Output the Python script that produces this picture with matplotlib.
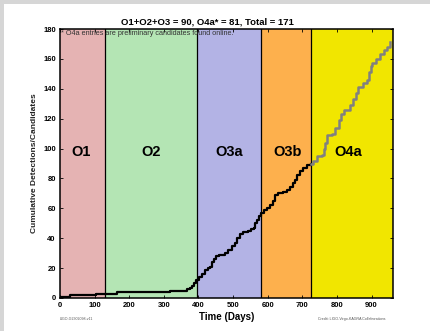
import matplotlib.pyplot as plt
from matplotlib.patches import Rectangle

plt.rcParams['font.family'] = ['Liberation Sans', 'DejaVu Sans']

# observing runs: name, start day, end day, colour
run_names = ['O1', 'O2', 'O3a', 'O3b', 'O4a']
run_edges = [0, 130, 396, 580, 725, 962]
run_colors = ['#e5b3b3', '#b4e5b4', '#b3b3e5', '#fdb04d', '#f1e600']
label_x = [60, 262, 488, 658, 832]

# cumulative detections (O1-O3)
det_days = [0, 29, 104, 164, 318, 366, 376, 382, 388, 394, 402, 410, 419, 428,
            434, 440, 446, 452, 458, 477, 486, 496, 506, 512, 520, 530, 544,
            552, 559, 564, 568, 574, 580, 588, 598, 607, 614, 621, 630, 645,
            655, 665, 672, 679, 686, 694, 702, 713, 725]
det_count = [1, 2, 3, 4, 5, 6, 7, 8, 10, 12, 14, 16, 19, 20,
             21, 24, 26, 28, 29, 30, 32, 35, 37, 40, 43, 44, 45,
             46, 47, 50, 52, 55, 57, 59, 60, 62, 65, 69, 70, 71,
             72, 74, 77, 79, 82, 85, 87, 89, 90]

# O4a preliminary candidates
cand_days = [725, 732, 742, 756, 762, 766, 771, 785, 795, 805, 812, 819, 838,
             846, 854, 862, 874, 886, 892, 897, 901, 912, 925, 935, 945, 954]
cand_count = [90, 92, 95, 96, 100, 104, 109, 110, 114, 119, 123, 126, 129,
              133, 137, 141, 144, 146, 151, 155, 157, 160, 163, 166, 168, 171]

fig = plt.figure(figsize=(4.30, 3.31), dpi=100)
fig.patch.set_facecolor('white')
# grey slide border on the top and left edges
fig.patches.append(Rectangle((0, 1 - 4 / 331), 1, 4 / 331, transform=fig.transFigure,
                             facecolor='#d6d6d6', edgecolor='none', zorder=-1))
fig.patches.append(Rectangle((0, 0), 4 / 430, 1, transform=fig.transFigure,
                             facecolor='#d6d6d6', edgecolor='none', zorder=-1))

ax = fig.add_axes([60 / 430, 1 - 298 / 331, 333 / 430, 269 / 331])

for i, name in enumerate(run_names):
    ax.axvspan(run_edges[i], run_edges[i + 1], color=run_colors[i], lw=0, zorder=0)
    ax.text(label_x[i], 98, name, fontsize=10.5, fontweight='bold',
            ha='center', va='center', zorder=3)
for e in run_edges[1:-1]:
    ax.axvline(e, color='black', lw=0.9, zorder=1)

ax.step(det_days, det_count, where='post', color='black', lw=1.6, zorder=4)
ax.step(cand_days, cand_count, where='post', color='#808080', lw=1.8, zorder=4)

ax.set_xlim(0, 962)
ax.set_ylim(0, 180)
ax.set_xticks(range(0, 1000, 100))
ax.set_yticks(range(0, 200, 20))
ax.tick_params(direction='in', length=2, width=0.6, labelsize=5.5, pad=3,
               top=True, right=True)
for lab in ax.get_xticklabels() + ax.get_yticklabels():
    lab.set_fontweight('bold')
for s in ax.spines.values():
    s.set_linewidth(1.1)

ax.set_xlabel('Time (Days)', fontsize=7, fontweight='bold', labelpad=2)
ax.set_ylabel('Cumulative Detections/Candidates', fontsize=6, fontweight='bold',
              color='#222222', labelpad=4)

ax.text(4, 177, '* O4a entries are preliminary candidates found online.',
        fontsize=5.2, color='#333333', va='center', ha='left', zorder=5)

fig.text(207 / 430, 1 - 22 / 331, 'O1+O2+O3 = 90, O4a* = 81, Total = 171',
         fontsize=6.8, fontweight='bold', ha='center', va='center')
fig.text(60 / 430, 1 - 319 / 331, 'LIGO-G2302098-v11', fontsize=2.6,
         color='#555555', ha='left', va='center')
fig.text(385 / 430, 1 - 319 / 331, 'Credit: LIGO-Virgo-KAGRA Collaborations',
         fontsize=2.6, color='#555555', ha='right', va='center')

fig.savefig('out.png', dpi=100)
